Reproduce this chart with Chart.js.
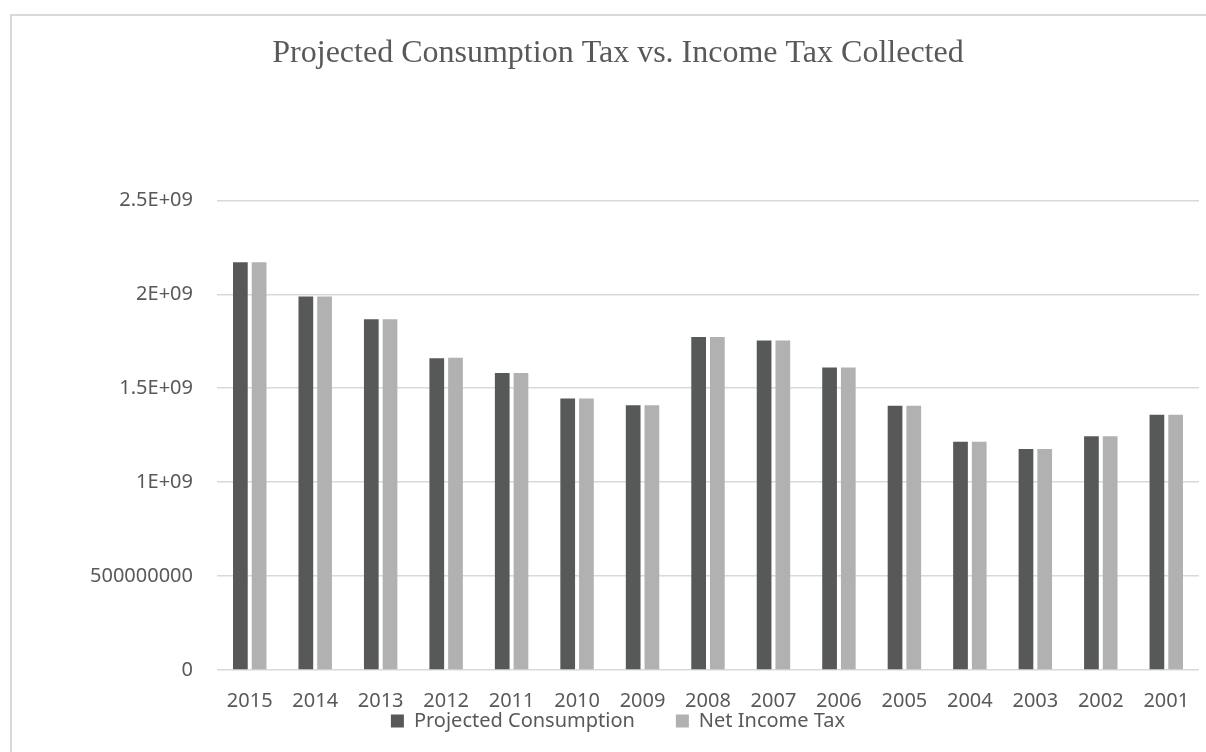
<!DOCTYPE html>
<html>
<head>
<meta charset="utf-8">
<title>Projected Consumption Tax vs. Income Tax Collected</title>
<script src="https://cdn.jsdelivr.net/npm/chart.js@4.4.1/dist/chart.umd.min.js"></script>
<style>
    html, body { margin: 0; padding: 0; background: #fff; overflow: hidden; }
    #frame { position: absolute; left: 10px; top: 14px; width: 1196px; height: 738px; box-sizing: border-box; border-left: 2px solid #d9d9d9; border-top: 2px solid #d9d9d9; }
    #chart { position: absolute; left: 0; top: 0; }
</style>
</head>
<body>
<div id="frame"></div>
<canvas id="chart" width="1206" height="752"></canvas>
<script>
// Data
const years = ['2015','2014','2013','2012','2011','2010','2009','2008','2007','2006','2005','2004','2003','2002','2001'];
const projectedConsumption = [2.171e9, 1.988e9, 1.867e9, 1.659e9, 1.581e9, 1.446e9, 1.409e9, 1.773e9, 1.754e9, 1.610e9, 1.407e9, 1.215e9, 1.176e9, 1.244e9, 1.359e9];
const netIncomeTax = [2.171e9, 1.988e9, 1.867e9, 1.662e9, 1.581e9, 1.446e9, 1.409e9, 1.773e9, 1.754e9, 1.610e9, 1.407e9, 1.215e9, 1.176e9, 1.244e9, 1.359e9];
const yTickLabels = ['0','500000000','1E+09','1.5E+09','2E+09','2.5E+09'];

const textGray = '#595959';
const gridGray = '#d9d9d9';
const labelFont = {family:'"Noto Sans", "Open Sans", sans-serif', size:20, lineHeight:1};

new Chart(document.getElementById('chart').getContext('2d'), {
    type: 'bar',
    data: {
        labels: years,
        datasets: [
            {label:'Projected Consumption', data:projectedConsumption, backgroundColor:'#575958', borderWidth:0, barPercentage:0.786, categoryPercentage:0.572},
            {label:'Net Income Tax', data:netIncomeTax, backgroundColor:'#b0b1b0', borderWidth:0, barPercentage:0.786, categoryPercentage:0.572}
        ]
    },
    options: {
        responsive:false, animation:false,
        layout:{padding:{left:37, right:7, top:0, bottom:11}},
        plugins:{
            title:{display:true, text:'Projected Consumption Tax vs. Income Tax Collected', color:textGray,
                font:{family:'"Liberation Serif", "Times New Roman", serif', size:32, weight:'normal', lineHeight:1.2},
                padding:{top:34, bottom:128}},
            legend:{position:'bottom', labels:{color:textGray, font:labelFont, boxWidth:13, boxHeight:13, padding:1,
                // wider gap between the two legend entries
                generateLabels:(chart)=>{
                    const items = Chart.defaults.plugins.legend.labels.generateLabels(chart);
                    items[0].text += '\u2003\u2003';
                    return items;
                }}},
            tooltip:{enabled:false}
        },
        scales:{
            x:{
                grid:{display:false, drawTicks:false}, border:{display:false},
                ticks:{color:textGray, font:labelFont, padding:21, autoSkip:false, maxRotation:0},
                afterFit:(scale)=>{scale.height = 40; scale.paddingLeft = 0; scale.paddingRight = 0;}
            },
            y:{
                min:0, max:2.5e9,
                grid:{color:gridGray, lineWidth:1.5, drawTicks:false}, border:{display:false},
                ticks:{stepSize:5e8, color:textGray, font:labelFont, padding:24,
                    callback:(v, i)=>yTickLabels[i]},
                afterFit:(scale)=>{scale.width = 180;}
            }
        }
    }
});
</script>
</body>
</html>
